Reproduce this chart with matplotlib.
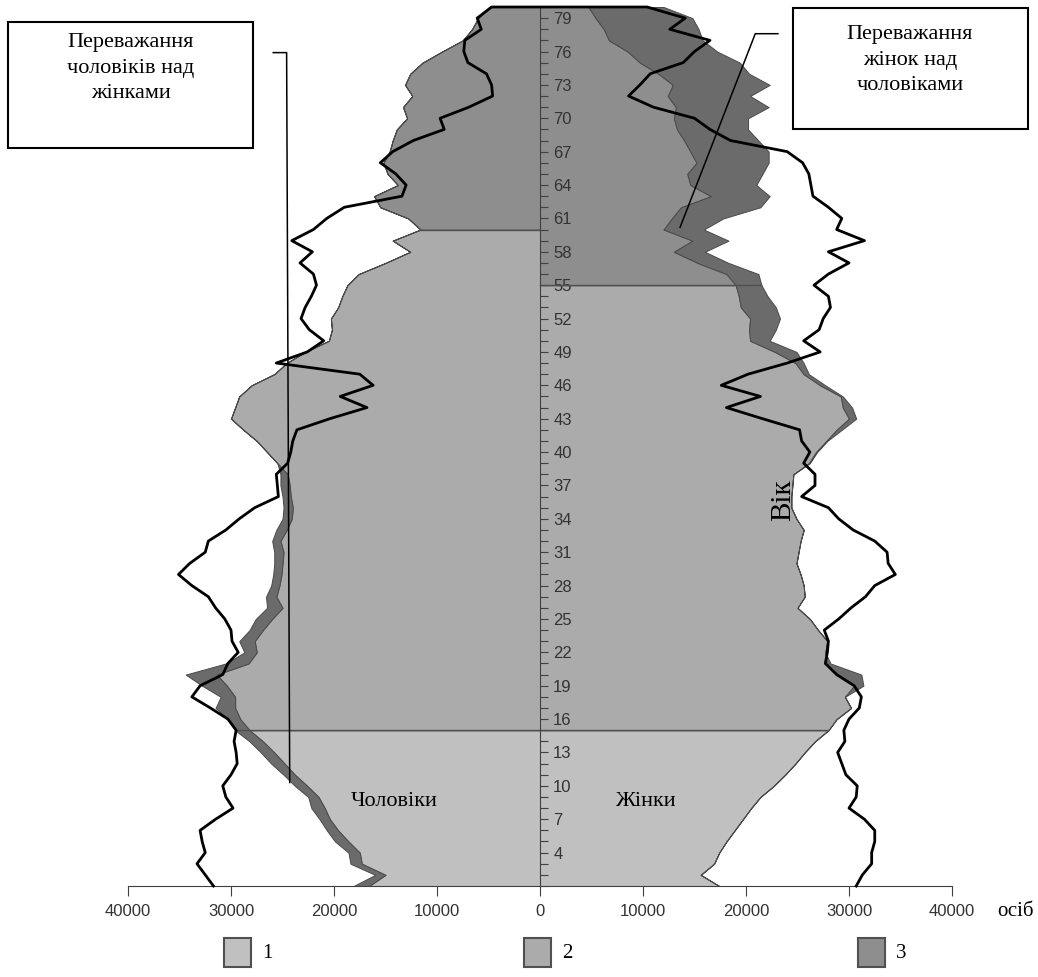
import matplotlib.pyplot as plt
from matplotlib.patches import Rectangle
import numpy as np

# ages 1..80, values in thousands of persons
ages = np.arange(1, 81)

men_inner = [16.6, 15.0, 17.3, 17.5, 18.6, 19.6, 20.4, 20.9, 21.5, 22.6,
             23.8, 24.8, 25.8, 26.9, 28.2, 29.1, 29.6, 29.6, 30.4, 31.4,
             28.3, 27.5, 27.7, 26.9, 26.0, 25.0, 25.6, 25.3, 25.1, 25.0,
             24.9, 25.2, 24.6, 24.1, 24.0, 24.2, 24.3, 24.5, 25.5, 26.5,
             27.5, 28.8, 30.0, 29.6, 29.2, 28.0, 25.8, 24.6, 22.8, 20.5,
             20.2, 20.3, 19.6, 19.2, 18.7, 17.6, 15.0, 12.6, 14.3, 11.6,
             12.8, 15.5, 16.1, 13.8, 14.8, 15.2, 14.6, 14.3, 13.9, 12.9,
             13.3, 12.4, 13.1, 12.6, 11.4, 9.5, 7.5, 6.6, 6.0, 4.9]
men_outer = [18.1, 16.0, 18.4, 18.6, 19.9, 20.7, 21.4, 22.2, 22.5, 23.8,
             24.9, 26.1, 27.1, 28.2, 29.6, 30.3, 31.5, 31.0, 32.8, 34.4,
             30.5, 28.7, 29.2, 28.2, 27.6, 26.5, 26.6, 26.1, 25.9, 25.8,
             25.8, 26.0, 25.6, 25.0, 24.9, 25.0, 25.2, 25.2] + men_inner[38:]

women_inner = [17.4, 15.6, 16.9, 17.4, 18.1, 18.9, 19.7, 20.5, 21.4, 22.7,
               23.8, 24.8, 25.7, 26.7, 28.0, 28.8, 30.2, 29.6, 30.5, 28.8,
               27.8, 27.7, 27.9, 27.0, 26.2, 25.0, 25.7, 25.6, 25.3, 24.9,
               25.1, 25.3, 25.6, 24.9, 24.4, 24.4, 24.5, 24.6, 26.1, 26.8,
               27.8, 28.8, 30.0, 29.4, 29.2, 27.2, 25.6, 24.8, 22.8, 20.4,
               20.3, 20.4, 19.5, 19.3, 19.0, 18.1, 15.3, 13.0, 14.8, 12.0,
               12.8, 13.7, 16.6, 14.6, 14.3, 15.2, 14.6, 14.0, 13.3, 13.0,
               13.2, 12.4, 12.9, 11.5, 9.7, 8.5, 6.7, 6.2, 5.4, 4.7]
women_outer = women_inner[:18] + [31.4, 31.2, 28.2] + women_inner[21:38] + [
               26.2, 26.9, 27.9, 29.3, 30.7, 30.3, 29.4, 27.7, 26.1, 25.6,
               24.9, 22.3, 22.9, 23.3, 22.9, 22.1, 21.5, 21.2, 18.3, 16.0,
               18.3, 15.9, 17.8, 21.4, 22.3, 21.0, 21.6, 22.2, 22.2, 21.2,
               20.2, 20.2, 22.2, 20.4, 22.3, 20.3, 19.4, 17.2, 15.8, 15.4,
               14.8, 12.0]

men_line = [31.7, 32.5, 33.3, 32.5, 32.8, 33.0, 31.5, 29.8, 30.5, 30.8,
            30.0, 29.4, 29.5, 29.7, 29.5, 30.3, 32.0, 33.8, 33.0, 30.8,
            30.3, 29.3, 29.9, 30.0, 30.6, 31.5, 32.2, 33.8, 35.1, 34.0,
            32.5, 32.2, 30.5, 29.2, 27.7, 25.4, 25.5, 25.6, 24.5, 24.2,
            24.0, 23.6, 20.4, 16.8, 19.4, 16.2, 17.5, 25.6, 22.6, 21.0,
            22.4, 23.2, 22.8, 22.2, 21.7, 22.0, 23.3, 22.1, 24.1, 22.0,
            20.7, 19.0, 13.4, 13.0, 14.0, 15.5, 14.3, 12.3, 9.3, 9.7,
            6.9, 4.6, 4.7, 5.2, 7.0, 7.4, 7.3, 5.7, 6.1, 4.7]
women_line = [30.7, 31.3, 32.2, 32.2, 32.5, 32.5, 31.5, 30.0, 30.7, 30.8,
              29.7, 29.3, 28.9, 29.6, 29.5, 30.0, 31.0, 31.2, 30.5, 28.8,
              27.7, 27.9, 28.0, 27.6, 29.0, 30.2, 31.6, 32.5, 34.5, 33.8,
              33.7, 32.5, 30.4, 29.0, 28.0, 25.4, 26.7, 26.7, 25.6, 26.2,
              25.4, 25.2, 21.6, 18.1, 21.4, 17.6, 20.2, 24.0, 27.2, 25.6,
              27.1, 27.5, 28.2, 28.0, 26.6, 28.0, 30.0, 28.0, 31.5, 28.8,
              29.3, 28.0, 26.5, 26.3, 26.1, 25.5, 24.0, 18.5, 16.5, 15.0,
              11.0, 8.6, 9.7, 10.7, 13.9, 15.0, 16.5, 12.6, 14.1, 10.4]

child_limit = 15
men_retire = 60
women_retire = 55

group_colors = ['#c0c0c0', '#ababab', '#8e8e8e']
excess_color = '#6b6b6b'
edge = '#555555'

W, H = 1038, 977
fig = plt.figure(figsize=(W / 100, H / 100), dpi=100)
ax = fig.add_axes([128 / W, (H - 886) / H, 824 / W, 879 / H])


def draw_side(sign, inner, outer, retire):
    inner = sign * np.array(inner) * 1000
    outer = sign * np.array(outer) * 1000
    bounds = [(1, child_limit), (child_limit, retire), (retire, 80)]
    for (lo, hi), c in zip(bounds, group_colors):
        m = (ages >= lo) & (ages <= hi)
        ax.fill_betweenx(ages[m], 0, inner[m], facecolor=c, edgecolor=edge, lw=0.7)
    ax.fill_betweenx(ages, inner, outer, facecolor=excess_color, edgecolor='#4a4a4a', lw=0.7)
    return outer


mo = draw_side(-1, men_inner, men_outer, men_retire)
wo = draw_side(1, women_inner, women_outer, women_retire)

# group boundaries
ax.plot([mo[child_limit - 1], wo[child_limit - 1]], [child_limit, child_limit], color='#505050', lw=1)
ax.plot([mo[men_retire - 1], 0], [men_retire, men_retire], color='#505050', lw=1)
ax.plot([0, wo[women_retire - 1]], [women_retire, women_retire], color='#505050', lw=1)

# thick line
lx = np.concatenate([-np.array(men_line), np.array(women_line)[::-1]]) * 1000
ly = np.concatenate([ages, ages[::-1]])
ax.plot(lx, ly, color='black', lw=2.0, clip_on=False, zorder=3)

ax.set_xlim(-40000, 40000)
ax.set_ylim(1, 80)
for s in ['top', 'left']:
    ax.spines[s].set_visible(False)
ax.spines['right'].set_position(('data', 0))
ax.spines['right'].set_color('#404040')
ax.spines['bottom'].set_color('#404040')
ax.yaxis.tick_right()
ax.set_yticks(np.arange(4, 80, 3))
ax.set_yticks(ages, minor=True)
ax.tick_params(axis='y', which='both', direction='out', length=5.5, width=0.8,
               color='#404040', labelsize=12, labelcolor='#333333', pad=4)
for t in ax.get_yticklabels():
    t.set_fontfamily('Liberation Sans')
xt = np.arange(-40000, 40001, 10000)
ax.set_xticks(xt)
ax.set_xticklabels([str(abs(v)) for v in xt], fontfamily='Liberation Sans')
ax.tick_params(axis='x', direction='out', length=7, width=0.8, color='#404040',
               labelsize=12, labelcolor='#333333', pad=6)

serif = 'Liberation Serif'
ax.text(-14200, 8.55, 'Чоловіки', fontsize=16, family=serif, ha='center', va='center')
ax.text(10200, 8.55, 'Жінки', fontsize=16, family=serif, ha='center', va='center')
ax.text(23600, 35.7, 'Вік', fontsize=21, family=serif, rotation=90, ha='center', va='center')

# annotation pointers
ax.plot([-25900, -24600, -24300], [75.9, 75.9, 10.3], color='black', lw=1.1, clip_on=False)
ax.plot([23100, 20900, 13600], [77.6, 77.6, 60.2], color='black', lw=1.1, clip_on=False)

# annotation boxes
fig.add_artist(Rectangle((8 / W, 1 - 148 / H), 245 / W, 126 / H, transform=fig.transFigure,
                         fill=False, edgecolor='black', lw=1.5))
fig.text(131 / W, 1 - 68 / H, 'Переважання\nчоловіків над\nжінками', fontsize=16, family=serif,
         ha='center', va='center', linespacing=1.45)
fig.add_artist(Rectangle((793 / W, 1 - 129 / H), 235 / W, 121 / H, transform=fig.transFigure,
                         fill=False, edgecolor='black', lw=1.5))
fig.text(910 / W, 1 - 60 / H, 'Переважання\nжінок над\nчоловіками', fontsize=16, family=serif,
         ha='center', va='center', linespacing=1.45)

fig.text(1015 / W, 1 - 911 / H, 'осіб', fontsize=15, family=serif, ha='center', va='center')

# legend
for x0, lab, c in zip([224, 524, 858], ['1', '2', '3'], group_colors):
    fig.add_artist(Rectangle((x0 / W, 1 - 967 / H), 27 / W, 29 / H, transform=fig.transFigure,
                             facecolor=c, edgecolor='#505050', lw=1.5))
    fig.text((x0 + 38) / W, 1 - 953 / H, lab, fontsize=15, family=serif, ha='left', va='center')

fig.savefig('out.png', dpi=100)
